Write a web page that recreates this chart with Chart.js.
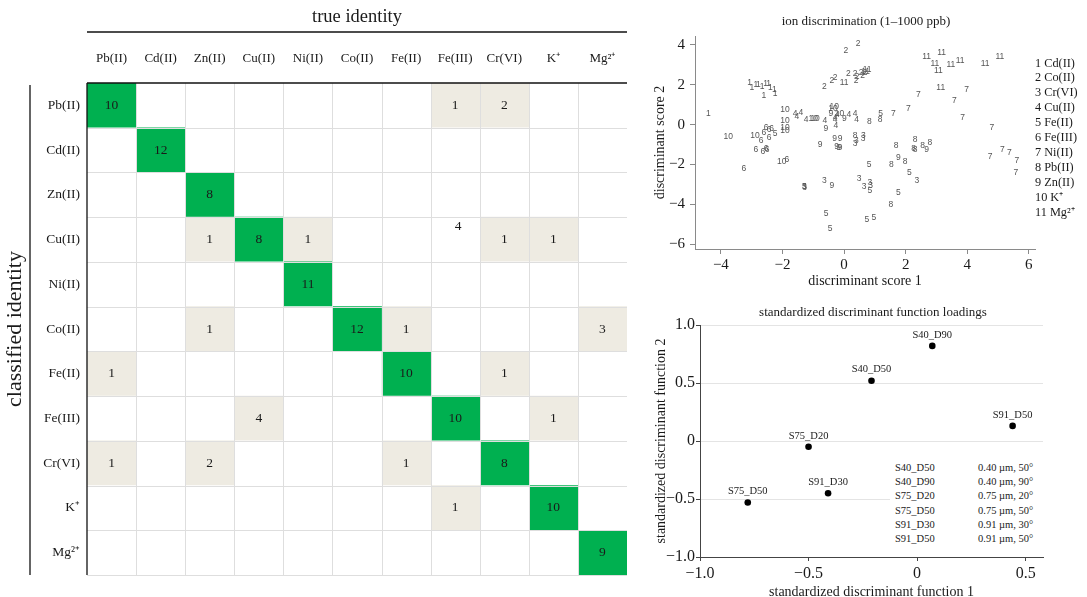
<!DOCTYPE html>
<html><head><meta charset="utf-8">
<script src="https://cdn.jsdelivr.net/npm/chart.js@4.4.0/dist/chart.umd.min.js"></script>
<style>
html,body{margin:0;padding:0;background:#fff;}
body{width:1087px;height:597px;position:relative;overflow:hidden;font-family:"Liberation Serif","Times New Roman",serif;color:#1a1a1a;}
canvas{position:absolute;}
#cm{left:0;top:0;width:640px;height:597px;}
#ds{left:640px;top:0;width:447px;height:290px;}
#ld{left:640px;top:290px;width:447px;height:309px;}
.t{position:absolute;white-space:nowrap;}
</style></head><body>
<canvas id="cm" width="640" height="597"></canvas>
<canvas id="ds" width="447" height="290"></canvas>
<canvas id="ld" width="447" height="309"></canvas>
<div class="t" style="left:666px;width:400px;top:13px;text-align:center;font-size:13px;line-height:16px;">ion discrimination (1–1000 ppb)</div>
<div id="legend"></div>
<div class="t" style="left:673px;width:400px;top:304px;text-align:center;font-size:13px;line-height:16px;">standardized discriminant function loadings</div>
<div id="table" style="position:absolute;left:890px;top:459px;width:153px;height:89px;background:#fff;"></div>
<script>
// ---------- confusion matrix data ----------
const trueIds = ['Pb(II)','Cd(II)','Zn(II)','Cu(II)','Ni(II)','Co(II)','Fe(II)','Fe(III)','Cr(VI)','K⁺','Mg²⁺'];
const classIds = ['Pb(II)','Cd(II)','Zn(II)','Cu(II)','Ni(II)','Co(II)','Fe(II)','Fe(III)','Cr(VI)','K⁺','Mg²⁺'];
const rowPb   = [10,0,0,0,0,0,0,1,2,0,0];
const rowCd   = [0,12,0,0,0,0,0,0,0,0,0];
const rowZn   = [0,0,8,0,0,0,0,0,0,0,0];
const rowCu   = [0,0,1,8,1,0,0,4,1,1,0];
const rowNi   = [0,0,0,0,11,0,0,0,0,0,0];
const rowCo   = [0,0,1,0,0,12,1,0,0,0,3];
const rowFeII = [1,0,0,0,0,0,10,0,1,0,0];
const rowFeIII= [0,0,0,4,0,0,0,10,0,1,0];
const rowCr   = [1,0,2,0,0,0,1,0,8,0,0];
const rowK    = [0,0,0,0,0,0,0,1,0,10,0];
const rowMg   = [0,0,0,0,0,0,0,0,0,0,9];
const counts = [rowPb,rowCd,rowZn,rowCu,rowNi,rowCo,rowFeII,rowFeIII,rowCr,rowK,rowMg];
const unshadedCells = [[3,7]]; // the loose "4" printed without shading

// ---------- discriminant scores (x = score 1, y = score 2) ----------
const speciesLegend = ['Cd(II)','Co(II)','Cr(VI)','Cu(II)','Fe(II)','Fe(III)','Ni(II)','Pb(II)','Zn(II)','K⁺','Mg²⁺'];
const cdScores  = [[-4.41,0.56],[-3.07,2.12],[-2.99,1.88],[-2.86,2.00],[-2.78,2.03],[-2.66,1.90],[-2.55,2.07],[-2.45,2.08],[-2.39,1.83],[-2.26,1.73],[-2.60,1.45],[-2.24,1.53]];
const coScores  = [[0.46,4.07],[0.06,3.73],[-0.64,1.93],[-0.40,2.23],[-0.29,2.35],[0.14,2.57],[0.36,2.57],[0.39,2.23],[0.55,2.62],[0.68,2.60],[0.42,2.40],[0.60,2.45]];
const crScores  = [[0.63,-0.58],[0.36,-0.94],[0.40,-0.80],[-1.29,-3.12],[-0.64,-2.82],[0.49,-2.70],[0.84,-2.92],[0.65,-3.12],[0.86,-3.05],[2.36,-2.82],[-1.28,-3.16],[0.62,-0.70]];
const cuScores  = [[-1.59,0.56],[-1.40,0.59],[-1.53,0.40],[-1.23,0.25],[-0.62,0.18],[-0.22,0.50],[-0.29,0.36],[-0.29,0.23],[-0.27,-0.03],[0.16,0.48],[0.36,0.56],[0.41,0.23]];
const feIIScores= [[1.19,0.53],[-1.29,-3.12],[0.81,-2.03],[0.84,-3.32],[-0.58,-4.45],[-0.45,-5.24],[0.74,-4.79],[0.97,-4.67],[2.12,-2.42],[1.76,-3.42],[-2.24,-0.44]];
const feIIIScores=[[-2.53,-0.14],[-2.43,-0.24],[-2.35,-0.19],[-2.43,-0.64],[-2.69,-0.81],[-2.86,-1.24],[-2.64,-1.36],[-2.53,-1.19],[-3.25,-2.20],[-1.86,-1.74],[-2.60,-0.40],[-2.50,-1.25]];
const niScores  = [[3.98,1.76],[2.41,1.48],[3.58,1.18],[2.09,0.78],[1.60,0.56],[3.85,0.36],[4.80,-0.16],[4.74,-1.61],[5.14,-1.28],[5.37,-1.41],[5.61,-1.81],[5.58,-2.42]];
const pbScores  = [[0.82,0.13],[1.17,0.23],[0.36,-0.58],[1.69,-1.08],[2.31,-0.78],[2.31,-1.28],[2.26,-1.22],[2.55,-1.05],[2.79,-0.91],[1.54,-2.00],[1.98,-1.86],[1.52,-4.00]];
const znScores  = [[-0.31,-0.69],[-0.13,-0.69],[-0.78,-0.99],[-0.24,-1.11],[-0.13,-1.16],[-0.18,-1.14],[-0.40,-3.07],[-0.59,-0.21],[-0.43,0.56],[0.01,0.31],[1.76,-1.65],[2.68,-1.28]];
const kScores   = [[-1.92,0.73],[-1.92,0.19],[-1.92,-0.17],[-1.92,-0.30],[-0.94,0.28],[-0.32,0.89],[-0.15,0.56],[-3.76,-0.61],[-2.89,-0.58],[-2.02,-1.86],[-0.36,0.80],[-1.00,0.30]];
const mgScores  = [[0.00,2.13],[0.75,2.78],[0.70,2.68],[2.68,3.40],[3.17,3.60],[2.95,3.07],[3.06,2.73],[3.47,3.02],[3.77,3.23],[4.58,3.07],[5.06,3.40],[3.14,1.84]];
const scoreSets = [cdScores,coScores,crScores,cuScores,feIIScores,feIIIScores,niScores,pbScores,znScores,kScores,mgScores];
const scoreTicksX = [-4,-2,0,2,4,6];
const scoreTicksY = [-6,-4,-2,0,2,4];

// ---------- loadings ----------
const loadNames = ['S40_D90','S40_D50','S91_D50','S75_D20','S91_D30','S75_D50'];
const loadF1 = [0.07,-0.21,0.44,-0.50,-0.41,-0.78];
const loadF2 = [0.82,0.52,0.13,-0.05,-0.45,-0.53];
const loadTicksX = [-1,-0.5,0,0.5];
const loadTicksY = [-1,-0.5,0,0.5,1];
const tableNames = ['S40_D50','S40_D90','S75_D20','S75_D50','S91_D30','S91_D50'];
const tableDesc  = ['0.40 µm, 50°','0.40 µm, 90°','0.75 µm, 20°','0.75 µm, 50°','0.91 µm, 30°','0.91 µm, 50°'];

// ---------- helpers ----------
const SERIF = '"Liberation Serif","Times New Roman",serif';
const INK = '#1a1a1a';
Chart.defaults.font.family = SERIF;
Chart.defaults.color = INK;
const minus = s => String(s).replace('-', '−');
const GREEN = '#00b050', BEIGE = '#eeebe2';
function isUnshaded(i,j){ return unshadedCells.some(c => c[0]===i && c[1]===j); }
function cellColor(i,j){
  const v = counts[i][j];
  if (i === j) return GREEN;
  if (v > 0 && !isUnshaded(i,j)) return BEIGE;
  return '#ffffff';
}

// ---------- confusion matrix chart ----------
const matrixDeco = {
  id: 'matrixDeco',
  afterDatasetsDraw(chart){
    const {ctx, chartArea:a, scales:{x, y}} = chart;
    ctx.save();
    ctx.strokeStyle = '#dedede'; ctx.lineWidth = 1;
    for (let j = 1; j < trueIds.length; j++){
      const px = Math.round(x.getPixelForValue(j-0.5)) + 0.5;
      ctx.beginPath(); ctx.moveTo(px, a.top); ctx.lineTo(px, a.bottom); ctx.stroke();
    }
    for (let i = 1; i <= classIds.length; i++){
      const py = Math.round(y.getPixelForValue(i-0.5)) + 0.5;
      ctx.beginPath(); ctx.moveTo(a.left, py); ctx.lineTo(a.right, py); ctx.stroke();
    }
    ctx.fillStyle = INK; ctx.font = '13.5px ' + SERIF; ctx.textAlign = 'center'; ctx.textBaseline = 'middle';
    counts.forEach((row, i) => row.forEach((v, j) => {
      if (!v) return;
      const dy = isUnshaded(i,j) ? -13 : 0;
      const dx = isUnshaded(i,j) ? 3 : 0;
      ctx.fillText(String(v), x.getPixelForValue(j) + dx, y.getPixelForValue(i) + dy);
    }));
    ctx.strokeStyle = '#111'; ctx.lineWidth = 1.3;
    ctx.beginPath(); ctx.moveTo(a.left, a.top); ctx.lineTo(a.right, a.top); ctx.stroke();
    ctx.beginPath(); ctx.moveTo(a.left, a.top); ctx.lineTo(a.left, a.bottom); ctx.stroke();
    ctx.beginPath(); ctx.moveTo(a.left, 32); ctx.lineTo(a.right, 32); ctx.stroke();
    ctx.beginPath(); ctx.moveTo(30, a.top + 2); ctx.lineTo(30, a.bottom); ctx.stroke();
    ctx.restore();
  }
};

new Chart(document.getElementById('cm'), {
  type: 'bar',
  data: {
    labels: classIds,
    datasets: trueIds.map((c, j) => ({
      label: c,
      data: classIds.map((r, i) => ({ y: r, x: [j - 0.5, j + 0.5] })),
      backgroundColor: classIds.map((r, i) => cellColor(i, j)),
      borderWidth: 0,
      barPercentage: 1,
      categoryPercentage: 1,
      grouped: false
    }))
  },
  options: {
    indexAxis: 'y',
    responsive: false, animation: false, devicePixelRatio: 1,
    layout: { padding: { left: 0, top: 0, right: 13, bottom: 22 } },
    plugins: { legend: { display: false }, tooltip: { enabled: false } },
    scales: {
      x: {
        type: 'linear', position: 'top', min: -0.5, max: trueIds.length - 0.5,
        afterBuildTicks: s => { s.ticks = trueIds.map((c, j) => ({ value: j })); },
        afterFit: s => { s.height = 83; },
        ticks: { callback: v => trueIds[v], autoSkip: false, maxRotation: 0, padding: 17, font: { size: 13 }, color: INK },
        grid: { display: false, drawTicks: false },
        border: { display: false },
        title: { display: true, text: 'true identity', font: { size: 18.5 }, color: INK, padding: { top: 6, bottom: 0 } }
      },
      y: {
        afterFit: s => { s.width = 87; },
        ticks: { padding: 7, font: { size: 13.5 }, color: INK },
        grid: { display: false, drawTicks: false },
        border: { display: false },
        title: { display: true, text: 'classified identity', font: { size: 22 }, color: INK, padding: { top: 2, bottom: 0 } }
      }
    }
  },
  plugins: [matrixDeco]
});

// ---------- discriminant scores chart ----------
const digitLabels = {
  id: 'digitLabels',
  afterDatasetsDraw(chart){
    const ctx = chart.ctx; ctx.save();
    ctx.font = '8.5px "Liberation Sans", Arial, sans-serif';
    ctx.fillStyle = '#555'; ctx.textAlign = 'center'; ctx.textBaseline = 'middle';
    chart.data.datasets.forEach((ds, i) => {
      chart.getDatasetMeta(i).data.forEach(el => ctx.fillText(ds.mark, el.x, el.y));
    });
    ctx.restore();
  }
};
const axisGrey = '#8a8a8a';
new Chart(document.getElementById('ds'), {
  type: 'scatter',
  data: {
    datasets: scoreSets.map((set, k) => ({
      label: speciesLegend[k], mark: String(k + 1),
      data: set.map(p => ({ x: p[0], y: p[1] })),
      pointRadius: 0, pointHoverRadius: 0
    }))
  },
  options: {
    responsive: false, animation: false, devicePixelRatio: 1,
    layout: { padding: { left: 0, top: 36, right: 52, bottom: 0 } },
    plugins: { legend: { display: false }, tooltip: { enabled: false } },
    scales: {
      x: {
        type: 'linear', min: -4.84, max: 6.2,
        afterBuildTicks: s => { s.ticks = scoreTicksX.map(v => ({ value: v })); },
        afterFit: s => { s.height = 41; },
        ticks: { callback: v => minus(v), autoSkip: false, maxRotation: 0, padding: 2, font: { size: 15 }, color: INK },
        grid: { drawOnChartArea: false, drawTicks: true, tickLength: 5, tickColor: axisGrey },
        border: { display: true, color: axisGrey },
        title: { display: true, text: 'discriminant score 1', font: { size: 14 }, color: INK, padding: { top: 0, bottom: 0 } }
      },
      y: {
        type: 'linear', min: -6.25, max: 4.45,
        afterBuildTicks: s => { s.ticks = scoreTicksY.map(v => ({ value: v })); },
        afterFit: s => { s.width = 55; },
        ticks: { callback: v => minus(v), autoSkip: false, padding: 5, font: { size: 15 }, color: INK },
        grid: { drawOnChartArea: false, drawTicks: true, tickLength: 5, tickColor: axisGrey },
        border: { display: true, color: axisGrey },
        title: { display: true, text: 'discriminant score 2', font: { size: 14 }, color: INK, padding: { top: 11.6, bottom: 0 } }
      }
    }
  },
  plugins: [digitLabels]
});

// ---------- loadings chart ----------
const nameLabels = {
  id: 'nameLabels',
  afterDatasetsDraw(chart){
    const ctx = chart.ctx; ctx.save();
    ctx.font = '10.5px ' + SERIF; ctx.fillStyle = INK; ctx.textAlign = 'center'; ctx.textBaseline = 'middle';
    chart.getDatasetMeta(0).data.forEach((el, i) => ctx.fillText(loadNames[i], el.x, el.y - 11));
    ctx.restore();
  }
};
const fmtLoad = v => v === 0 ? '0' : minus(Number(v).toFixed(1));
new Chart(document.getElementById('ld'), {
  type: 'scatter',
  data: {
    datasets: [{
      label: 'loadings',
      data: loadNames.map((n, i) => ({ x: loadF1[i], y: loadF2[i] })),
      pointRadius: 3.3, pointBackgroundColor: '#000', pointBorderWidth: 0, pointHoverRadius: 3.3
    }]
  },
  options: {
    responsive: false, animation: false, devicePixelRatio: 1,
    layout: { padding: { left: 0, top: 35, right: 44, bottom: 0 } },
    plugins: { legend: { display: false }, tooltip: { enabled: false } },
    scales: {
      x: {
        type: 'linear', min: -1, max: 0.58,
        afterBuildTicks: s => { s.ticks = loadTicksX.map(v => ({ value: v })); },
        afterFit: s => { s.height = 42; },
        ticks: { callback: v => fmtLoad(v), autoSkip: false, maxRotation: 0, padding: 3, font: { size: 16 }, color: INK },
        grid: { drawOnChartArea: false, drawTicks: true, tickLength: 4, tickColor: '#444' },
        border: { display: true, color: '#444' },
        title: { display: true, text: 'standardized discriminant function 1', font: { size: 14, lineHeight: 1 }, color: INK, padding: { top: 0, bottom: 0 } }
      },
      y: {
        type: 'linear', min: -1, max: 1,
        afterBuildTicks: s => { s.ticks = loadTicksY.map(v => ({ value: v })); },
        afterFit: s => { s.width = 60; },
        ticks: { callback: v => fmtLoad(v), autoSkip: false, padding: 1, font: { size: 16 }, color: INK },
        grid: { drawOnChartArea: true, color: '#e4e4e4', drawTicks: true, tickLength: 4, tickColor: '#444' },
        border: { display: true, color: '#444' },
        title: { display: true, text: 'standardized discriminant function 2', font: { size: 14 }, color: INK, padding: { top: 12.6, bottom: 0 } }
      }
    }
  },
  plugins: [nameLabels]
});

// ---------- HTML legend and table ----------
const leg = document.getElementById('legend');
speciesLegend.forEach((s, k) => {
  const d = document.createElement('div');
  d.className = 't';
  d.style.cssText = 'left:1035px;top:' + (55.5 + k * 14.94) + 'px;font-size:12.3px;line-height:15px;';
  d.textContent = (k + 1) + ' ' + s;
  leg.appendChild(d);
});
const tab = document.getElementById('table');
tableNames.forEach((n, k) => {
  const top = 2 + k * 14.2;
  const a = document.createElement('div'); a.className = 't';
  a.style.cssText = 'left:5px;top:' + top + 'px;font-size:10.5px;line-height:14px;';
  a.textContent = n; tab.appendChild(a);
  const b = document.createElement('div'); b.className = 't';
  b.style.cssText = 'left:88px;top:' + top + 'px;font-size:10.5px;line-height:14px;';
  b.textContent = tableDesc[k]; tab.appendChild(b);
});
</script>
</body></html>
